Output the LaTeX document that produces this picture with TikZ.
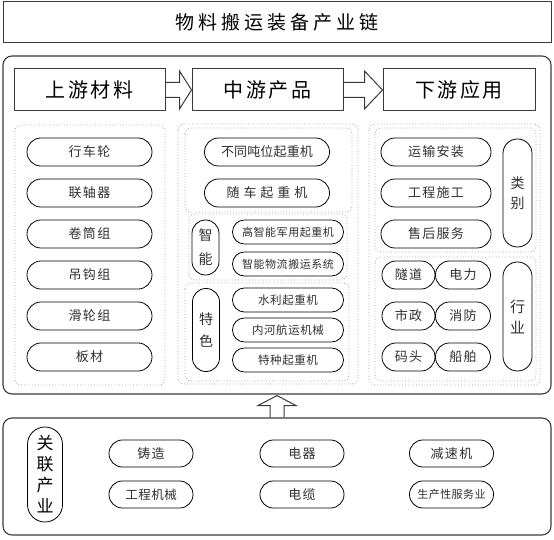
\documentclass[tikz,border=0pt]{standalone}
\usepackage{fontspec}
\setmainfont{Noto Sans CJK SC}
\usetikzlibrary{calc}
\definecolor{txt}{HTML}{303030}
\definecolor{ln}{HTML}{3A3A3A}
\newcommand\fs[3]{\fontsize{#1}{#2}\selectfont\addfontfeature{LetterSpace=#3}}
\begin{document}
\begin{tikzpicture}[x=1pt,y=-1pt,
 frame/.style={draw=ln, line width=1pt, inner sep=0pt, text=black},
 bigbox/.style={draw=ln, line width=1.1pt, rounded corners=9pt, inner sep=0pt},
 grp/.style={draw=gray!75, line width=0.8pt, dash pattern=on 0.8pt off 2pt, rounded corners=6pt},
 pill/.style={draw=black, line width=0.8pt, inner sep=0pt, text=txt, align=center},
 hp/.style={pill, minimum width=#1, minimum height=28pt, rounded corners=13.9pt},
 sp/.style={pill, minimum width=111pt, minimum height=24pt, rounded corners=11.9pt},
 vp/.style={pill, rounded corners=13.4pt, minimum width=27pt},
 bp/.style={pill, minimum width=84pt, minimum height=27pt, rounded corners=13.4pt},
 blk/.style={draw=ln, line width=1pt, line join=miter},
]
\useasboundingbox (0,0) rectangle (554,540);
% title
\node[frame, minimum width=548pt, minimum height=41pt, font=\fs{19}{22}{21}] (title) at (277,22.5) {物料搬运装备产业链};
% main boxes
\node[bigbox, minimum width=548pt, minimum height=338pt] (main) at (277,225) {};
\node[bigbox, minimum width=548pt, minimum height=117pt] (rel) at (277,476.5) {};
% headers
\node[frame, minimum width=151pt, minimum height=42pt, font=\fs{20}{22}{12}] (h1) at (89.5,90) {上游材料};
\node[frame, minimum width=151pt, minimum height=42pt, font=\fs{20}{22}{12}] (h2) at (267.5,90) {中游产品};
\node[frame, minimum width=152pt, minimum height=42pt, font=\fs{20}{22}{12}] (h3) at (459,90) {下游应用};
% header arrows
\draw[blk] ($(h1.east)+(0,-7.5)$) -- ($(h2.west)+(-12,-7.5)$) -- ($(h2.west)+(-12,-19)$) -- (h2.west)
  -- ($(h2.west)+(-12,19)$) -- ($(h2.west)+(-12,7.5)$) -- ($(h1.east)+(0,7.5)$);
\draw[blk] ($(h2.east)+(0,-7.5)$) -- ($(h3.west)+(-18,-7.5)$) -- ($(h3.west)+(-18,-19)$) -- (h3.west)
  -- ($(h3.west)+(-18,19)$) -- ($(h3.west)+(-18,7.5)$) -- ($(h2.east)+(0,7.5)$);
% up arrow
\draw[blk] ($(rel.north)+(-7,0)$) -- ($(main.south)+(-7,11)$) -- ($(main.south)+(-19,11)$) -- ($(main.south)+(0,1)$)
  -- ($(main.south)+(19,11)$) -- ($(main.south)+(7,11)$) -- ($(rel.north)+(7,0)$);
% dotted groups
\draw[grp] (15,125) rectangle (165,385);
\draw[grp] (178,124) rectangle (358,384);
\draw[grp] (185,128) rectangle (352,212);
\draw[grp] (189,214) rectangle (347,280);
\draw[grp] (185,283) rectangle (349,381);
\draw[grp] (369,124) rectangle (540,385);
\draw[grp] (375,128) rectangle (536,252);
\draw[grp] (375,257) rectangle (536,381);
% left column
\begin{scope}[every node/.append style={font=\fs{13}{15}{10}}]
\node[hp=125pt] (u1) at (89.5,152) {行车轮};
\node[hp=125pt] (u2) at (89.5,193) {联轴器};
\node[hp=125pt] (u3) at (89.5,234) {卷筒组};
\node[hp=125pt] (u4) at (89.5,275) {吊钩组};
\node[hp=125pt] (u5) at (89.5,316) {滑轮组};
\node[hp=125pt] (u6) at (89.5,357) {板材};
\end{scope}
% middle column
\node[hp=125pt, font=\fs{13}{15}{1}] (m1) at (267,152) {不同吨位起重机};
\node[hp=125pt, font=\fs{13}{15}{30}] (m2) at (267,193) {随车起重机};
\node[vp, minimum height=55pt, font=\fs{14}{24}{0}] (zn) at (205.5,247.5) {智\\能};
\node[sp, font=\fs{11}{13}{5}] (z1) at (288,232) {高智能军用起重机};
\node[sp, font=\fs{11}{13}{5}] (z2) at (288,264) {智能物流搬运系统};
\node[vp, minimum height=83pt, font=\fs{14}{22}{0}] (ts) at (206,330) {特\\色};
\node[sp, font=\fs{11.5}{13}{5}] (t1) at (288,300) {水利起重机};
\node[sp, font=\fs{11.5}{13}{5}] (t2) at (288,330) {内河航运机械};
\node[sp, font=\fs{11.5}{13}{5}] (t3) at (288,360) {特种起重机};
% right column
\begin{scope}[every node/.append style={font=\fs{13}{15}{10}}]
\node[hp=110pt] (d1) at (436,152) {运输安装};
\node[hp=110pt] (d2) at (436,193) {工程施工};
\node[hp=110pt] (d3) at (436,234) {售后服务};
\node[hp=53pt] (s1) at (408.5,275) {隧道};
\node[hp=55pt] (s2) at (463,275) {电力};
\node[hp=53pt] (s3) at (408.5,316) {市政};
\node[hp=55pt] (s4) at (463,316) {消防};
\node[hp=53pt] (s5) at (408.5,357) {码头};
\node[hp=55pt] (s6) at (463,357) {船舶};
\end{scope}
\node[vp, minimum width=29pt, minimum height=108pt, rounded corners=14.4pt, font=\fs{14}{20}{0}] (lb) at (517.5,193) {类\\别};
\node[vp, minimum width=29pt, minimum height=109pt, rounded corners=14.4pt, font=\fs{15}{21}{0}] (hy) at (517.5,316.5) {行\\业};
% related industries
\node[vp, minimum width=35pt, minimum height=95pt, rounded corners=17.4pt, text=black, font=\fs{17}{21}{0}] (gl) at (45,474.5) {关\\联\\产\\业};
\node[bp, font=\fs{13}{15}{8}] (r1) at (151,453.5) {铸造};
\node[bp, font=\fs{12.5}{15}{4}] (r2) at (151,494.5) {工程机械};
\node[bp, font=\fs{13}{15}{8}] (r3) at (302,453.5) {电器};
\node[bp, font=\fs{13}{15}{8}] (r4) at (302,494.5) {电缆};
\node[bp, font=\fs{13}{15}{10}] (r5) at (451.5,453.5) {减速机};
\node[bp, font=\fs{11}{13}{4}] (r6) at (451.5,494.5) {生产性服务业};
\end{tikzpicture}
\end{document}
